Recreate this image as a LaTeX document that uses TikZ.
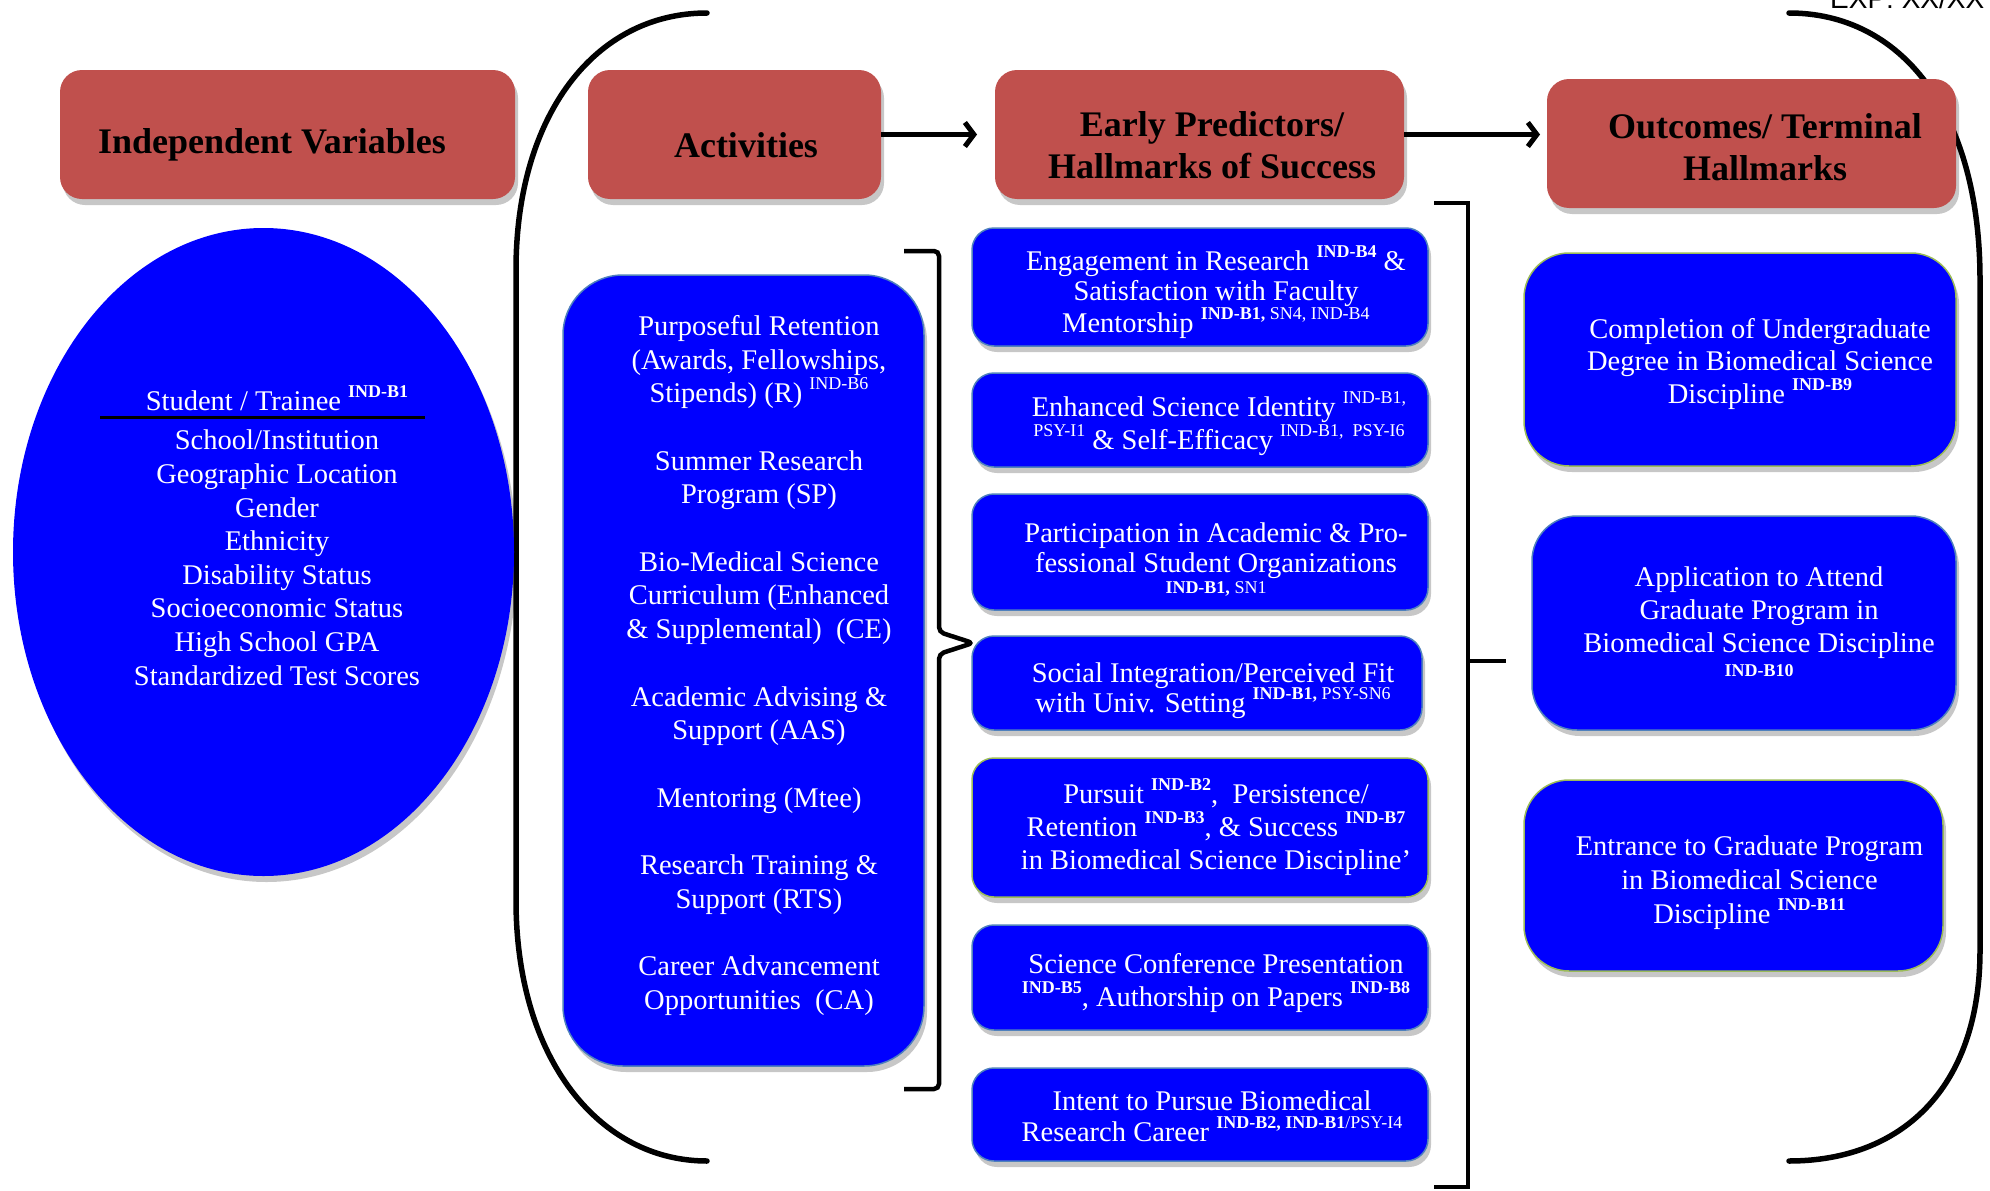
\documentclass[tikz,border=0pt]{standalone}
\usepackage{fontspec}
\setmainfont{Liberation Serif}
\setsansfont{Liberation Sans}
\usetikzlibrary{arrows.meta,shadows,shapes.geometric}
\definecolor{hdr}{HTML}{C0504D}
\definecolor{bbl}{HTML}{0000FF}
\definecolor{bedge}{HTML}{4F81BD}
\definecolor{gedge}{HTML}{9BBB59}
\newcommand{\sups}[1]{\raisebox{13pt}{\fontsize{18}{18}\selectfont #1}}
\newcommand{\smallsup}[1]{{\fontsize{18}{18}\selectfont #1}}
\newcommand{\nolsk}{\lineskiplimit -200pt\relax}
\begin{document}
\begin{tikzpicture}[x=1pt,y=-1pt,
  shadowed/.style={drop shadow={shadow xshift=3pt,shadow yshift=-6pt,opacity=0.22,fill=black}},
  hdrbox/.style={rectangle,rounded corners=22pt,fill=hdr,draw=none,inner sep=0pt,outer sep=0pt,shadowed},
  bluebox/.style={rectangle,rounded corners=#1,fill=bbl,draw=bedge,line width=1.5pt,inner sep=0pt,outer sep=0pt,shadowed},
  bluebox/.default=22pt,
  greenbox/.style={bluebox=#1,draw=gedge},
  greenbox/.default=22pt,
  hdrtext/.style={align=center,inner sep=0pt,text=black,font=\fontsize{36}{42}\selectfont\bfseries},
  btext/.style={align=center,inner sep=0pt,text=white,font={\fontsize{28.5}{#1}\selectfont\nolsk}},
  btext/.default=33,
  paren/.style={line width=5.5pt,black,line cap=round},
  brk/.style={line width=4.5pt,black,rounded corners=5pt},
  arr/.style={line width=5pt,black,-{Straight Barb[length=9pt,width=24pt]}}
]
\useasboundingbox (0,0) rectangle (1990,1191);

% big parentheses
\coordinate (pl1) at (707,13);
\coordinate (pl2) at (707,1161);
\coordinate (pr1) at (1789,13);
\coordinate (pr2) at (1789,1161);
\draw[paren] (pl1) .. controls (595,13) and (516,115) .. (516,270) -- (516,900) .. controls (516,1060) and (600,1161) .. (pl2);
\draw[paren] (pr1) .. controls (1900,13) and (1980,110) .. (1980,280) -- (1980,950) .. controls (1980,1090) and (1900,1161) .. (pr2);

% header boxes
\node[hdrbox,minimum width=455pt,minimum height=129pt] (iv) at (287.5,134.5) {};
\node[hdrbox,minimum width=293pt,minimum height=129pt] (act) at (734.5,134.5) {};
\node[hdrbox,minimum width=409pt,minimum height=129pt] (early) at (1199.5,134.5) {};
\node[hdrbox,minimum width=409pt,minimum height=129pt] (out) at (1751.5,143.5) {};
\node[hdrtext,anchor=base] (ivt) at (272,153) {Independent Variables};
\node[hdrtext,anchor=base] (actt) at (746,157) {Activities};
\node[hdrtext] (earlyt) at (1212,145.5) {Early Predictors/\\Hallmarks of Success};
\node[hdrtext] (outt) at (1765,147.5) {Outcomes/ Terminal\\Hallmarks};

% arrows
\draw[arr,shorten >=18pt] (act.east) -- (early.west);
\draw[arr,shorten >=7pt] (early.east) -- (early.east -| out.west);

% ellipse
\node[ellipse,fill=bbl,draw=none,minimum width=501pt,minimum height=648pt,inner sep=0pt,shadowed] (ell) at (263.5,552) {};
\node[btext,anchor=base] (stt) at (277,410) {Student / Trainee \sups{\textbf{IND-B1}}};
\coordinate (rl) at (100,417);
\coordinate (rr) at (425,417);
\draw[line width=3pt,black] (rl) -- (rr);
\node[btext=33.6] (vars) at (277,557.7) {School/Institution\\Geographic Location\\Gender\\Ethnicity\\Disability Status\\Socioeconomic Status\\High School GPA\\Standardized Test Scores};

% activities
\node[bluebox=60pt,minimum width=361pt,minimum height=791pt] (acts) at (743.5,670.5) {};
\node[btext=33.7] (actst) at (759,665.3) {Purposeful Retention\\(Awards, Fellowships,\\Stipends) (R) \sups{IND-B6}\\[33.7pt]
Summer Research\\Program (SP)\\[33.7pt]
Bio-Medical Science\\Curriculum (Enhanced\\\& Supplemental)\ \ (CE)\\[33.7pt]
Academic Advising \&\\Support (AAS)\\[33.7pt]
Mentoring (Mtee)\\[33.7pt]
Research Training \&\\Support (RTS)\\[33.7pt]
Career Advancement\\Opportunities\ \ (CA)};

% activities brace
\coordinate (ab1) at (904,251);
\coordinate (ab2) at (939,251);
\coordinate (ab3) at (939,632);
\coordinate (abt) at (973,643);
\coordinate (ab4) at (939,654);
\coordinate (ab5) at (939,1089);
\coordinate (ab6) at (904,1089);
\draw[brk] (ab1) -- (ab2) -- (ab3) -- (abt) -- (ab4) -- (ab5) -- (ab6);

% early predictor boxes
\node[bluebox,minimum width=456pt,minimum height=118pt] (e1) at (1200,287) {};
\node[bluebox,minimum width=456pt,minimum height=94pt] (e2) at (1200,420) {};
\node[bluebox,minimum width=456pt,minimum height=116pt] (e3) at (1200,552) {};
\node[bluebox,minimum width=450pt,minimum height=94pt] (e4) at (1197,683) {};
\node[greenbox,minimum width=456pt,minimum height=139pt] (e5) at (1200,827.5) {};
\node[bluebox,minimum width=456pt,minimum height=105pt] (e6) at (1200,977.5) {};
\node[bluebox,minimum width=456pt,minimum height=93pt] (e7) at (1200,1114.5) {};

\node[btext=30] (e1t) at (1216,292.5) {Engagement in Research \sups{\textbf{IND-B4}} \&\\Satisfaction with Faculty\\[2pt]Mentorship \sups{\textbf{IND-B1,} SN4, IND-B4}};
\node[btext=33] (e2t) at (1219,424) {Enhanced Science Identity \sups{IND-B1,}\\\sups{PSY-I1} \& Self-Efficacy \sups{IND-B1,\ \ PSY-I6}};
\node[btext=30] (e3t) at (1216,559.5) {Participation in Academic \& Pro-\\fessional Student Organizations\\[-9pt]\smallsup{\textbf{IND-B1,}\ SN1}};
\node[btext=30] (e4t) at (1213,690.8) {Social Integration/Perceived Fit\\with Univ. Setting \sups{\textbf{IND-B1,} PSY-SN6}};
\node[btext=33] (e5t) at (1216,827.5) {Pursuit \sups{\textbf{IND-B2}},\ \ Persistence/\\Retention \sups{\textbf{IND-B3}}, \& Success \sups{\textbf{IND-B7}}\\in Biomedical Science Discipline'};
\node[btext=33] (e6t) at (1216,982.8) {Science Conference Presentation\\\sups{\textbf{IND-B5}}, Authorship on Papers \sups{\textbf{IND-B8}}};
\node[btext=31] (e7t) at (1212,1116.7) {Intent to Pursue Biomedical\\Research Career \sups{\textbf{IND-B2, IND-B1}/PSY-I4}};

% early bracket
\coordinate (eb1) at (1434,203);
\coordinate (eb2) at (1468,203);
\coordinate (eb3) at (1468,1187);
\coordinate (eb4) at (1434,1187);
\coordinate (ebm) at (1468,661);
\coordinate (ebt) at (1506,661);
\draw[line width=4.5pt,black] (eb1) -- (eb2) -- (eb3) -- (eb4);
\draw[line width=4.5pt,black] (ebm) -- (ebt);

% outcome boxes
\node[greenbox=45pt,minimum width=432pt,minimum height=213pt] (r1) at (1740,359.5) {};
\node[bluebox=45pt,minimum width=424pt,minimum height=214pt] (r2) at (1744,623) {};
\node[greenbox=45pt,minimum width=419pt,minimum height=191pt] (r3) at (1733.5,875.5) {};
\node[btext=32.5] (r1t) at (1760,363.8) {Completion of Undergraduate\\Degree in Biomedical Science\\Discipline \sups{\textbf{IND-B9}}};
\node[btext=33] (r2t) at (1759,622) {Application to Attend\\Graduate Program in\\Biomedical Science Discipline\\[-9pt]\smallsup{\textbf{IND-B10}}};
\node[btext=34] (r3t) at (1749.5,882.3) {Entrance to Graduate Program\\in Biomedical Science\\Discipline \sups{\textbf{IND-B11}}};

% corner text
\node[font=\sffamily\fontsize{28}{28}\selectfont,anchor=base west,inner sep=0pt] (exp) at (1830,9) {EXP: XX/XX};
\end{tikzpicture}
\end{document}
